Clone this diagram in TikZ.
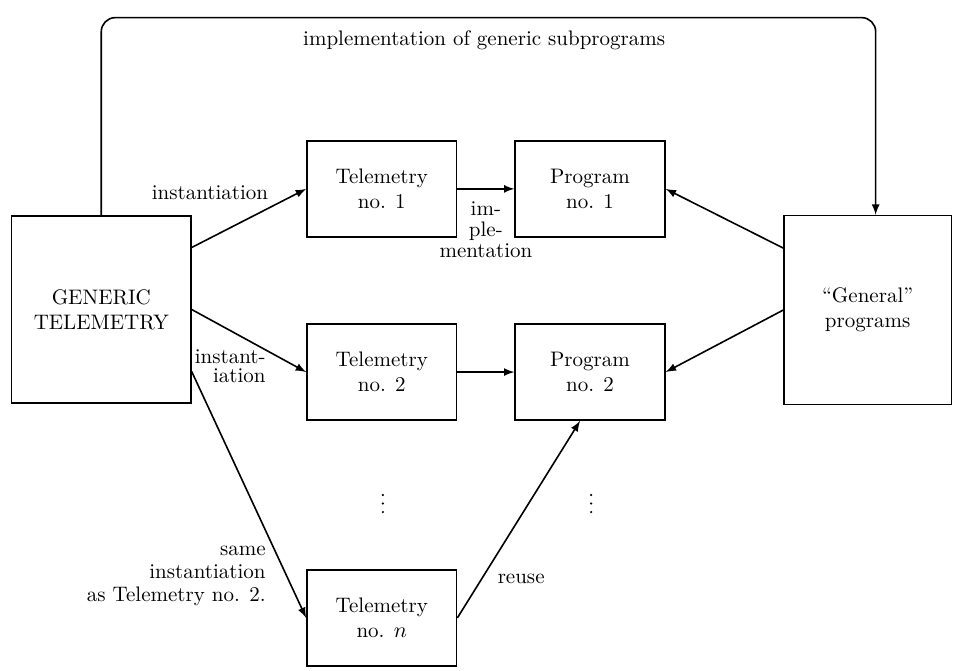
\documentclass[tikz,border=0pt]{standalone}
\usetikzlibrary{positioning}

\tikzset{
  box/.style={draw, thick, align=center, minimum width=2.63cm, minimum height=1.69cm},
  bigbox/.style={draw, thick, align=center, minimum width=3.15cm, minimum height=3.29cm},
  lbl/.style={inner sep=0pt, align=right},
  flow/.style={->, thick, >=latex},
}

\begin{document}
\begin{tikzpicture}[font=\fontsize{10.5}{12.5}\selectfont]
  \useasboundingbox (0,0) rectangle (16.75,11.79);
  % boxes
  \node[bigbox] (generic) at (1.78,6.35) {GENERIC\\TELEMETRY};
  \node[bigbox, minimum width=2.94cm, minimum height=3.32cm] (general) at (15.25,6.34) {``General''\\programs};
  \node[box] (tel1) at (6.71,8.47) {Telemetry\\no. 1};
  \node[box] (prog1) at (10.37,8.47) {Program\\no. 1};
  \node[box] (tel2) at (6.71,5.25) {Telemetry\\no. 2};
  \node[box] (prog2) at (10.37,5.25) {Program\\no. 2};
  \node[box] (teln) at (6.71,0.93) {Telemetry\\no. $n$};
  % vertical dots under the second row
  \foreach \x in {6.73,10.39}
    \foreach \y in {2.79,2.94,3.09}
      \fill (\x,\y) circle (0.6pt);
  % labels
  \node[lbl] (inst1) at (3.69,8.40) {instantiation};
  \node[lbl, align=center] (impl) at (8.54,7.75) {im-\\[-2pt]ple-\\[-2pt]mentation};
  \node[lbl, anchor=east] (inst2) at (4.675,5.36) {instant-\\[-3pt]iation};
  \node[lbl, anchor=east] (instn) at (4.675,1.66) {same\\[-1pt]instantiation\\[-1pt]as Telemetry no. 2.};
  \node[lbl] (reuse) at (9.16,1.62) {reuse};
  % arrows
  \draw[flow] ([yshift=31pt]generic.east) -- (tel1.west);
  \draw[flow] (generic.east) -- (tel2.west);
  \draw[flow] ([yshift=-31pt]generic.east) -- (teln.west);
  \draw[flow] (tel1) -- (prog1);
  \draw[flow] (tel2) -- (prog2);
  \draw[flow] ([yshift=31pt]general.west) -- (prog1.east);
  \draw[flow] (general.west) -- (prog2.east);
  \draw[flow] (teln.east) -- ([xshift=-5pt]prog2.south);
  % loop over the top
  \coordinate (looptop) at (8.51,11.48);
  \draw[flow, rounded corners=7pt] (generic.north) |- (looptop) -| ([xshift=4pt]general.north);
  \node[below=3pt] (implsub) at (looptop) {implementation of generic subprograms};
\end{tikzpicture}
\end{document}
